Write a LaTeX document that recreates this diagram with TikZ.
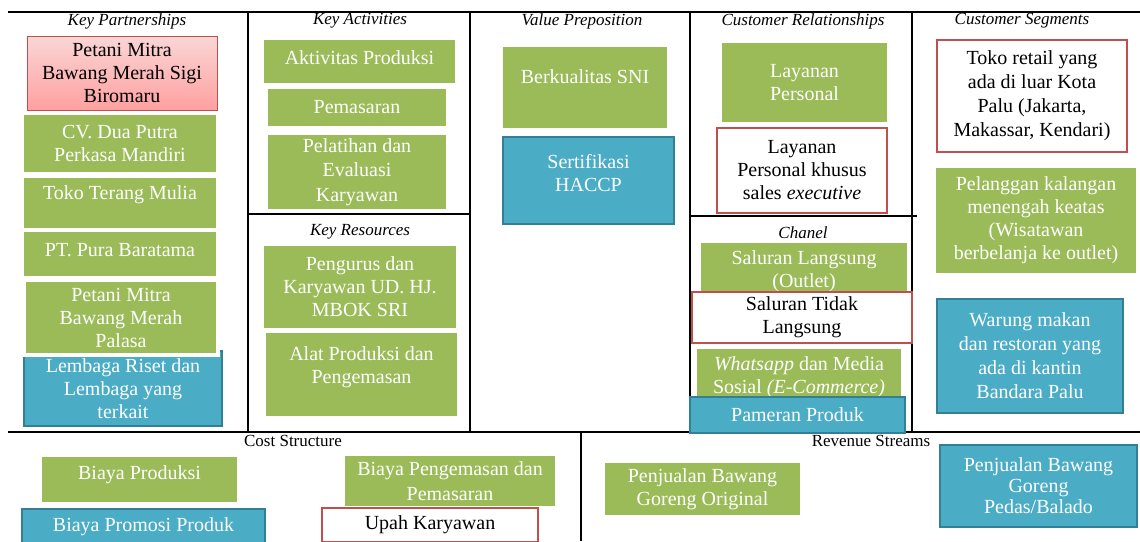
\documentclass[tikz,border=0pt]{standalone}
\usepackage{fontspec}
\setmainfont{Liberation Serif}
\usetikzlibrary{shadows}

\definecolor{kGreen}{RGB}{155,187,89}
\definecolor{kBlue}{RGB}{75,172,198}
\definecolor{kBlueDark}{RGB}{49,128,150}
\definecolor{kRed}{RGB}{192,80,77}
\definecolor{kPinkTop}{RGB}{250,214,214}
\definecolor{kPinkBot}{RGB}{255,160,160}

\begin{document}
\begin{tikzpicture}[x=0.5pt, y=-0.5pt, font=\fontsize{10}{11.5}\selectfont,
	wh/.style 2 args={minimum width=#1*0.5pt, minimum height=#2*0.5pt}]
	\tikzstyle{gridStyle}=[line width=0.75pt, black]
	\tikzstyle{titleStyle}=[font=\fontsize{8.5}{10}\selectfont\itshape, inner sep=0pt]
	\tikzstyle{plainTitleStyle}=[font=\fontsize{8.5}{10}\selectfont, inner sep=0pt]
	\tikzstyle{greenStyle}=[shape = rectangle, align=center, inner sep=2pt, draw=white, line width=2pt, fill=kGreen, text=white, drop shadow={opacity=0.3, shadow xshift=0.6pt, shadow yshift=-1pt}]
	\tikzstyle{blueStyle}=[shape = rectangle, align=center, inner sep=2pt, draw=kBlueDark, line width=1pt, fill=kBlue, text=white]
	\tikzstyle{redStyle}=[shape = rectangle, align=center, inner sep=2pt, draw=kRed, line width=1pt, fill=white, text=black]
	\tikzstyle{pinkStyle}=[shape = rectangle, align=center, inner sep=2pt, draw=kRed, line width=0.5pt, top color=kPinkTop, bottom color=kPinkBot, text=black]
	\tikzstyle{whiteText}=[text=white, align=center, inner sep=1pt]
	\useasboundingbox (0,0) rectangle (1140,541);
	\clip (0,0) rectangle (1140,541);
	% canvas lines
	\draw[gridStyle] (8,12) -- (1140,12);
	\draw[gridStyle] (8,432) -- (1140,432);
	\draw[gridStyle] (248,12) -- (248,432);
	\draw[gridStyle] (470,12) -- (470,432);
	\draw[gridStyle] (690,12) -- (690,432);
	\draw[gridStyle] (912,12) -- (912,432);
	\draw[gridStyle] (248,214) -- (470,214);
	\draw[gridStyle] (690,216) -- (917,216);
	\draw[gridStyle] (581,432) -- (581,541);
	% titles
	\node[titleStyle] (kpTitle) at (127,21) {Key Partnerships};
	\node[titleStyle] (kaTitle) at (360,21) {Key Activities};
	\node[titleStyle] (vpTitle) at (582,21) {Value Preposition};
	\node[titleStyle] (crTitle) at (803,21) {Customer Relationships};
	\node[titleStyle] (csTitle) at (1022,21) {Customer Segments};
	\node[titleStyle] (krTitle) at (360,232) {Key Resources};
	\node[titleStyle] (chTitle) at (803,233) {Chanel};
	\node[plainTitleStyle] (costTitle) at (293,441) {Cost Structure};
	\node[plainTitleStyle] (revTitle) at (871,441) {Revenue Streams};
	% key partnerships
	\node[pinkStyle, wh={190}{74}] (petaniSigi) at (122,73) {Petani Mitra\\Bawang Merah Sigi\\Biromaru};
	\node[greenStyle, wh={196}{61}] (cvDua) at (120,143.5) {CV. Dua Putra\\Perkasa Mandiri};
	\node[greenStyle, wh={196}{54}, label={[whiteText, yshift=4pt]center:Toko Terang Mulia}] (tokoTerang) at (120,203) {};
	\node[greenStyle, wh={196}{48}, label={[whiteText, yshift=2pt]center:PT. Pura Baratama}] (ptPura) at (120,254) {};
	\node[blueStyle, wh={198}{75}] (lembaga) at (123,388.5) {Lembaga Riset dan\\Lembaga yang\\terkait};
	\node[greenStyle, wh={194}{75}] (petaniPalasa) at (121,317.5) {Petani Mitra\\Bawang Merah\\Palasa};
	% key activities
	\node[greenStyle, wh={195}{47}, label={[whiteText, yshift=2pt]center:Aktivitas Produksi}] (aktivitas) at (359.5,61.5) {};
	\node[greenStyle, wh={182}{41}] (pemasaran) at (357,107.5) {Pemasaran};
	\node[greenStyle, wh={182}{78}, font=\fontsize{10}{12.25}\selectfont] (pelatihan) at (357,172) {Pelatihan dan\\Evaluasi\\Karyawan};
	% key resources
	\node[greenStyle, wh={196}{86}] (pengurus) at (360,287) {Pengurus dan\\Karyawan UD. HJ.\\MBOK SRI};
	\node[greenStyle, wh={195}{87}, label={[whiteText, yshift=3.5pt]center:{Alat Produksi dan\\Pengemasan}}] (alatProduksi) at (361.5,374.5) {};
	% value preposition
	\node[greenStyle, wh={168}{85}, label={[whiteText, yshift=5.25pt]center:Berkualitas SNI}] (sni) at (585,87.5) {};
	\node[blueStyle, wh={171}{87}, label={[whiteText, yshift=3.5pt]center:{Sertifikasi\\HACCP}}] (haccp) at (588.5,180.5) {};
	% customer relationships
	\node[greenStyle, wh={169}{83}] (layanan) at (804.5,82.5) {Layanan\\Personal};
	\node[redStyle, wh={170}{85}] (layananSales) at (802,170.5) {Layanan\\Personal khusus\\sales \textit{executive}};
	% chanel
	\node[greenStyle, wh={210}{60}] (langsung) at (804,271) {Saluran Langsung\\(Outlet)};
	\node[redStyle, wh={220}{51}] (tidakLangsung) at (802,317.5) {Saluran Tidak\\Langsung};
	\node[greenStyle, wh={208}{60}] (whatsapp) at (799,377) {\textit{Whatsapp} dan Media\\Sosial \textit{(E-Commerce)}};
	\node[blueStyle, wh={215}{36}] (pameran) at (797.5,415) {Pameran Produk};
	% customer segments
	\node[redStyle, wh={190}{112}, font=\fontsize{10}{12}\selectfont] (tokoRetail) at (1032,96) {Toko retail yang\\ada di luar Kota\\Palu (Jakarta,\\Makassar, Kendari)};
	\node[greenStyle, wh={204}{109}] (pelanggan) at (1036,220.5) {Pelanggan kalangan\\menengah keatas\\(Wisatawan\\berbelanja ke outlet)};
	\node[blueStyle, wh={186}{114}, font=\fontsize{10}{12}\selectfont] (warung) at (1030,356) {Warung makan\\dan restoran yang\\ada di kantin\\Bandara Palu};
	% cost structure
	\node[greenStyle, wh={199}{49}, label={[whiteText, yshift=2.5pt]center:Biaya Produksi}] (biayaProduksi) at (139.5,479.5) {};
	\node[blueStyle, wh={243}{36}] (biayaPromosi) at (143.5,527) {Biaya Promosi Produk};
	\node[greenStyle, wh={214}{54}, font=\fontsize{10}{12.5}\selectfont] (biayaKemas) at (450,481) {Biaya Pengemasan dan\\Pemasaran};
	\node[redStyle, wh={216}{34}] (upah) at (430,525) {Upah Karyawan};
	% revenue streams
	\node[greenStyle, wh={199}{56}] (gorengOri) at (702.5,489) {Penjualan Bawang\\Goreng Original};
	\node[blueStyle, wh={197}{82}, font=\fontsize{10}{10.5}\selectfont] (gorengPedas) at (1038.5,486) {Penjualan Bawang\\Goreng\\Pedas/Balado};
\end{tikzpicture}
\end{document}
